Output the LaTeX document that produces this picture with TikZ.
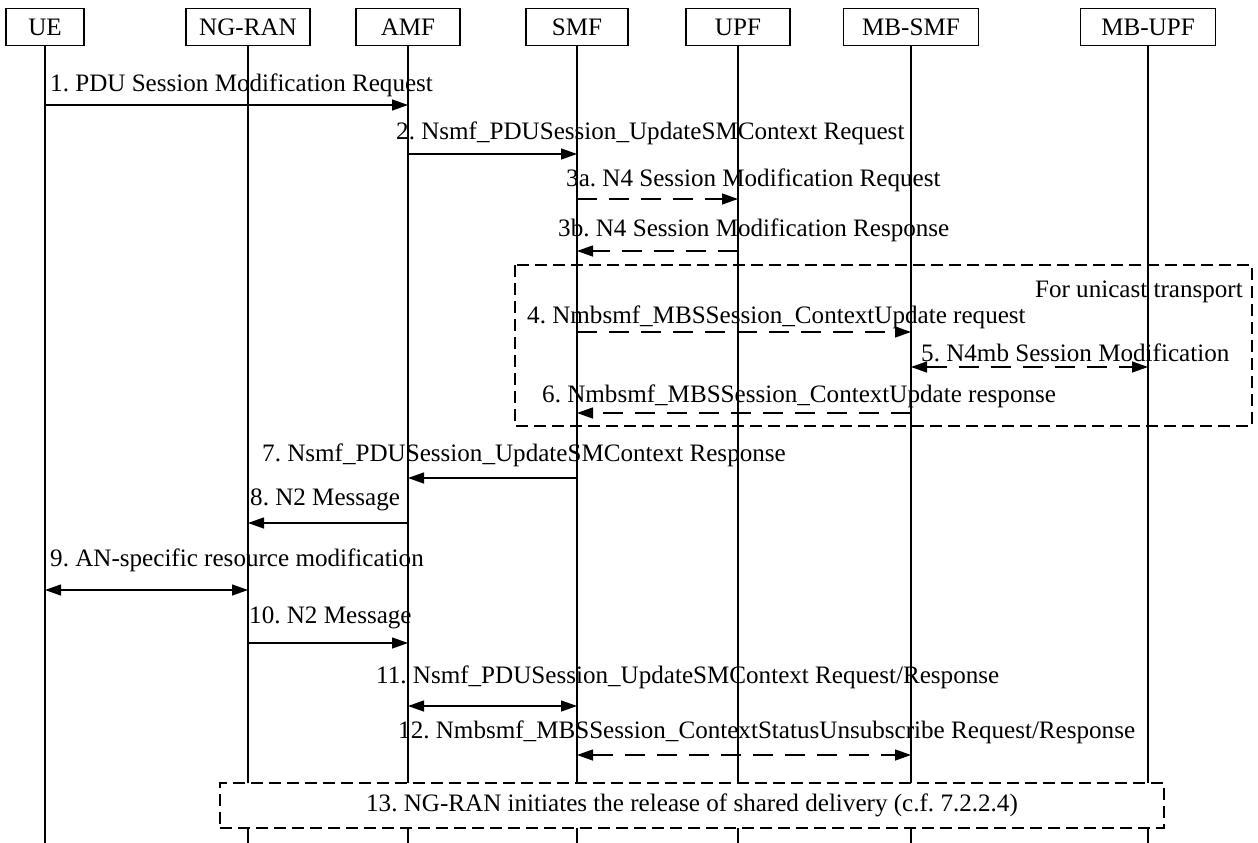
\documentclass[tikz,border=0pt]{standalone}
\usepackage{fontspec}
\setmainfont{Liberation Serif}
\usetikzlibrary{arrows.meta}

\tikzset{
  entity/.style={draw, line width=1.1pt, minimum height=37pt, inner sep=0pt},
  msg/.style={line width=1.3pt, -{Triangle[length=16pt,width=11pt]}},
  bimsg/.style={line width=1.3pt, {Triangle[length=16pt,width=11pt]}-{Triangle[length=16pt,width=11pt]}},
  dashmsg/.style={dash pattern=on 20pt off 12pt},
  lbl/.style={anchor=west, inner sep=0pt},
  groupbox/.style={draw, line width=1.1pt, dash pattern=on 12pt off 6pt},
}

\begin{document}
\frenchspacing
\begin{tikzpicture}[x=1pt, y=-1pt, font=\fontsize{25.1}{30}\selectfont]
    \useasboundingbox (0,0) rectangle (1258,843);

    % Entities
    \node[entity, minimum width=78pt]  (ue)    at (45,27)   {UE};
    \node[entity, minimum width=124pt] (ngran) at (248,27)  {NG-RAN};
    \node[entity, minimum width=104pt] (amf)   at (408,27)  {AMF};
    \node[entity, minimum width=102pt] (smf)   at (577,27)  {SMF};
    \node[entity, minimum width=104pt] (upf)   at (738,27)  {UPF};
    \node[entity, minimum width=135pt] (mbsmf) at (911,27)  {MB-SMF};
    \node[entity, minimum width=135pt] (mbupf) at (1148,27) {MB-UPF};

    % Lifelines
    \foreach \e in {ue, ngran, amf, smf, upf, mbsmf, mbupf}
        \draw[line width=1.4pt] (\e.south) -- (\e.south |- 0,843);

    % 1 - 3
    \node[lbl] (l1) at (50,85) {1. PDU Session Modification Request};
    \draw[msg] (ue.south |- 0,105) -- (amf.south |- 0,105);
    \node[lbl] (l2) at (396,133) {2. Nsmf\_PDUSession\_UpdateSMContext Request};
    \draw[msg] (amf.south |- 0,154) -- (smf.south |- 0,154);
    \node[lbl] (l3a) at (566,180) {3a. N4 Session Modification Request};
    \draw[msg, dashmsg] (smf.south |- 0,199) -- (upf.south |- 0,199);
    \node[lbl] (l3b) at (558,230) {3b. N4 Session Modification Response};
    \draw[msg, dashmsg] (upf.south |- 0,251) -- (smf.south |- 0,251);

    % For unicast transport
    \draw[groupbox] (515,265) rectangle (1252,426);
    \node[anchor=east, inner sep=0pt] (uni) at (1243,292) {For unicast transport};
    \node[lbl] (l4) at (527,317) {4. Nmbsmf\_MBSSession\_ContextUpdate request};
    \draw[msg, dashmsg] (smf.south |- 0,332) -- (mbsmf.south |- 0,332);
    \node[lbl] (l5) at (921,353) {5. N4mb Session Modification};
    \draw[bimsg, dashmsg] (mbsmf.south |- 0,367) -- (mbupf.south |- 0,367);
    \node[lbl] (l6) at (542,396) {6. Nmbsmf\_MBSSession\_ContextUpdate response};
    \draw[msg, dashmsg] (mbsmf.south |- 0,413) -- (smf.south |- 0,413);

    % 7 - 12
    \node[lbl] (l7) at (262,455) {7. Nsmf\_PDUSession\_UpdateSMContext Response};
    \draw[msg] (smf.south |- 0,478) -- (amf.south |- 0,478);
    \node[lbl] (l8) at (250,500) {8. N2 Message};
    \draw[msg] (amf.south |- 0,523) -- (ngran.south |- 0,523);
    \node[lbl] (l9) at (50,560) {9. AN-specific resource modification};
    \draw[bimsg] (ue.south |- 0,590) -- (ngran.south |- 0,590);
    \node[lbl] (l10) at (249,618) {10. N2 Message};
    \draw[msg] (ngran.south |- 0,643) -- (amf.south |- 0,643);
    \node[lbl] (l11) at (376,677) {11. Nsmf\_PDUSession\_UpdateSMContext Request/Response};
    \draw[bimsg] (amf.south |- 0,706) -- (smf.south |- 0,706);
    \node[lbl] (l12) at (398,732) {12. Nmbsmf\_MBSSession\_ContextStatusUnsubscribe Request/Response};
    \draw[bimsg, dashmsg] (smf.south |- 0,755) -- (mbsmf.south |- 0,755);

    % 13
    \node[groupbox, fill=white, minimum width=944pt, minimum height=45pt, inner sep=0pt] (s13) at (692,805.5) {13. NG-RAN initiates the release of shared delivery (c.f. 7.2.2.4)};
\end{tikzpicture}
\end{document}
